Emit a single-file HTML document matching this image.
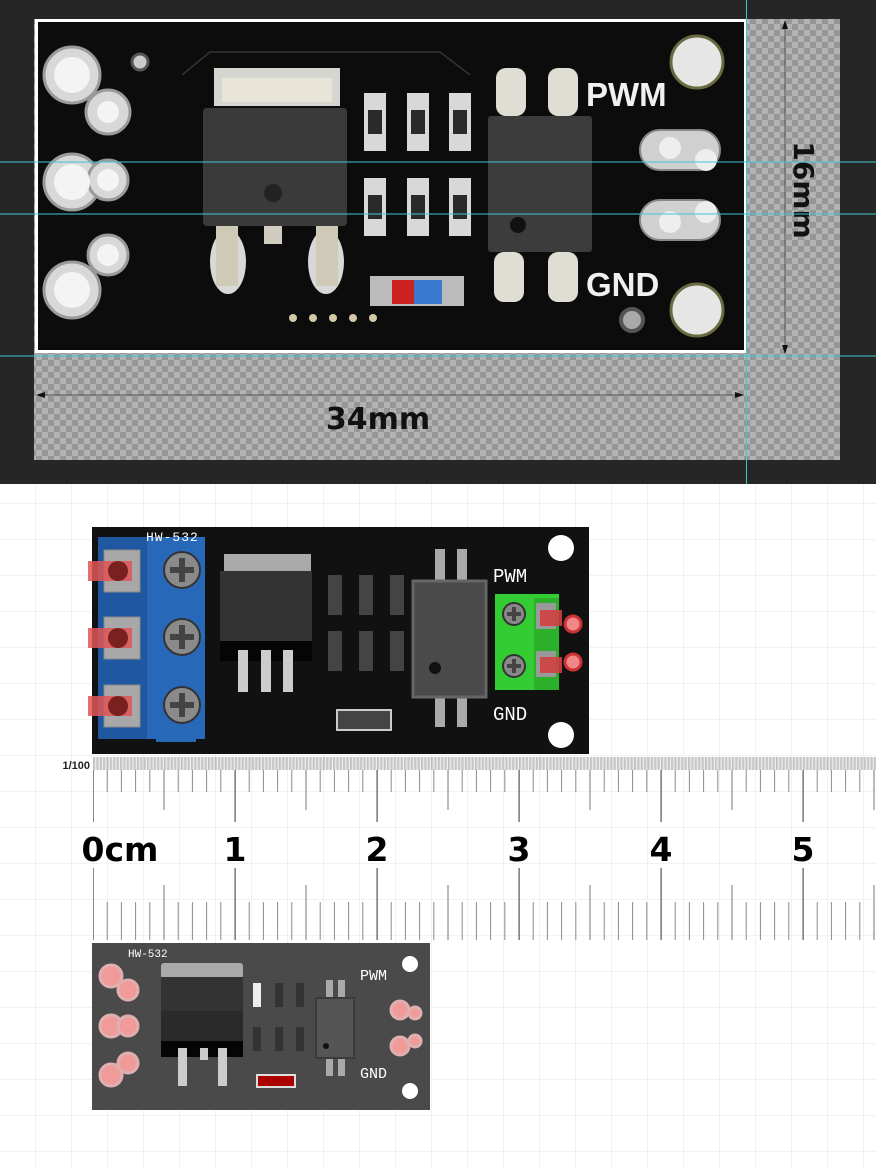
<!DOCTYPE html>
<html><head><meta charset="utf-8"><style>html,body{margin:0;padding:0;background:#fff}svg{display:block}</style></head><body>
<svg width="876" height="1169" viewBox="0 0 876 1169" xmlns="http://www.w3.org/2000/svg" font-family="Liberation Sans, DejaVu Sans, sans-serif">
<defs>
<pattern id="chk" width="12" height="12" patternUnits="userSpaceOnUse"><rect width="12" height="12" fill="#b3b3b3"/><rect width="6" height="6" fill="#969696"/><rect x="6" y="6" width="6" height="6" fill="#969696"/></pattern>
<pattern id="grid" x="0" y="0" width="36" height="36" patternUnits="userSpaceOnUse"><path d="M36 0V36H0" fill="none" stroke="#e2e6ea" stroke-width="1"/></pattern>
<pattern id="fine" x="93" y="0" width="1.42" height="20" patternUnits="userSpaceOnUse"><rect width="0.6" height="20" fill="#9a9a9a"/></pattern>
<pattern id="mm" x="92.5" y="0" width="14.2" height="200" patternUnits="userSpaceOnUse"><rect width="1" height="200" fill="#8a8a8a"/></pattern>
<pattern id="half" x="92.5" y="0" width="71" height="200" patternUnits="userSpaceOnUse"><rect width="1" height="200" fill="#777"/></pattern>
<pattern id="cm" x="92.5" y="0" width="142" height="200" patternUnits="userSpaceOnUse"><rect width="1.2" height="200" fill="#555"/></pattern>
</defs>
<!-- top photo area -->
<rect x="0" y="0" width="876" height="484" fill="#262626"/>
<rect x="34" y="19" width="806" height="441" fill="url(#chk)"/>
<rect x="35" y="19" width="711" height="334" fill="#fff"/>
<rect x="38" y="22" width="706" height="328" fill="#0c0c0c"/>
<path d="M182 75 L210 52 H440 L470 75" fill="none" stroke="#333" stroke-width="1.5"/>
<!-- left pads -->
<g fill="#d8d8d8" stroke="#9a9a9a" stroke-width="3">
<circle cx="72" cy="75" r="28"/><circle cx="108" cy="112" r="22"/>
<circle cx="72" cy="182" r="28"/><circle cx="108" cy="180" r="20"/>
<circle cx="72" cy="290" r="28"/><circle cx="108" cy="255" r="20"/>
</g>
<g fill="#f4f4f4"><circle cx="72" cy="75" r="18"/><circle cx="108" cy="112" r="11"/><circle cx="72" cy="182" r="18"/><circle cx="108" cy="180" r="11"/><circle cx="72" cy="290" r="18"/><circle cx="108" cy="255" r="11"/></g>
<circle cx="140" cy="62" r="8" fill="#ccc" stroke="#555" stroke-width="3"/>
<!-- mosfet -->
<rect x="214" y="68" width="126" height="38" fill="#d6d6d0"/>
<rect x="222" y="78" width="110" height="24" fill="#e8e4d8"/>
<rect x="203" y="108" width="144" height="118" rx="4" fill="#3a3a3a"/>
<circle cx="273" cy="193" r="9" fill="#222"/>
<rect x="264" y="226" width="18" height="18" fill="#d0ccc0"/>
<ellipse cx="228" cy="262" rx="18" ry="32" fill="#d8d8d8"/><rect x="216" y="226" width="22" height="60" fill="#cfc9b8"/>
<ellipse cx="326" cy="262" rx="18" ry="32" fill="#d8d8d8"/><rect x="316" y="226" width="22" height="60" fill="#cfc9b8"/>
<!-- resistors -->
<g fill="#d8d8d8"><rect x="364" y="93" width="22" height="58"/><rect x="407" y="93" width="22" height="58"/><rect x="449" y="93" width="22" height="58"/>
<rect x="364" y="178" width="22" height="58"/><rect x="407" y="178" width="22" height="58"/><rect x="449" y="178" width="22" height="58"/></g>
<g fill="#2a2a2a"><rect x="368" y="110" width="14" height="24"/><rect x="411" y="110" width="14" height="24"/><rect x="453" y="110" width="14" height="24"/><rect x="368" y="195" width="14" height="24"/><rect x="411" y="195" width="14" height="24"/><rect x="453" y="195" width="14" height="24"/></g>
<!-- diode -->
<rect x="370" y="276" width="94" height="30" fill="#bbb"/><rect x="392" y="280" width="22" height="24" fill="#c22"/><rect x="414" y="280" width="28" height="24" fill="#3a7ad0"/>
<g fill="#d4c8a8"><circle cx="293" cy="318" r="4"/><circle cx="313" cy="318" r="4"/><circle cx="333" cy="318" r="4"/><circle cx="353" cy="318" r="4"/><circle cx="373" cy="318" r="4"/></g>
<!-- optocoupler -->
<g fill="#e0ddd5"><rect x="496" y="68" width="30" height="48" rx="10"/><rect x="548" y="68" width="30" height="48" rx="10"/><rect x="494" y="252" width="30" height="50" rx="10"/><rect x="548" y="252" width="30" height="50" rx="10"/></g>
<rect x="488" y="116" width="104" height="136" rx="3" fill="#3c3c3c"/>
<circle cx="518" cy="225" r="8" fill="#111"/>
<text x="586" y="106" fill="#f0f0f0" font-size="33" font-weight="bold">PWM</text>
<text x="586" y="296" fill="#f0f0f0" font-size="33" font-weight="bold">GND</text>
<!-- right pads -->
<g fill="#d0d0d0" stroke="#888" stroke-width="2"><rect x="640" y="130" width="80" height="40" rx="20"/><rect x="640" y="200" width="80" height="40" rx="20"/></g>
<g fill="#eee"><circle cx="670" cy="148" r="11"/><circle cx="706" cy="160" r="11"/><circle cx="670" cy="222" r="11"/><circle cx="706" cy="212" r="11"/></g>
<circle cx="697" cy="62" r="26" fill="#e6e6e6" stroke="#6a6a40" stroke-width="3"/>
<circle cx="697" cy="310" r="26" fill="#e6e6e6" stroke="#6a6a40" stroke-width="3"/>
<circle cx="632" cy="320" r="11" fill="#aaa" stroke="#555" stroke-width="4"/>
<!-- dimension -->
<line x1="785" y1="22" x2="785" y2="350" stroke="#555" stroke-width="1"/>
<path d="M785 20l-3 9h6z M785 354l-3-9h6z" fill="#111"/>
<line x1="38" y1="395" x2="740" y2="395" stroke="#555"/>
<path d="M36 395l9-3v6z M744 395l-9-3v6z" fill="#111"/>
<text x="378" y="429" text-anchor="middle" font-size="30" font-weight="bold" fill="#111" font-family="DejaVu Sans, sans-serif">34mm</text>
<text transform="translate(794,190) rotate(90)" text-anchor="middle" font-size="28" font-weight="bold" fill="#111" font-family="DejaVu Sans, sans-serif">16mm</text>
<g stroke="#3cc8d0" stroke-width="1"><line x1="0" y1="162" x2="876" y2="162"/><line x1="0" y1="214" x2="876" y2="214"/><line x1="0" y1="356" x2="876" y2="356"/><line x1="746.5" y1="0" x2="746.5" y2="484"/></g>
<!-- grid bg -->
<rect x="0" y="484" width="876" height="685" fill="url(#grid)"/>
<!-- middle pcb -->
<rect x="92" y="527" width="497" height="227" fill="#111"/>
<rect x="98" y="537" width="50" height="202" fill="#1f58a0"/>
<rect x="147" y="537" width="58" height="202" fill="#2868b8"/>
<rect x="156" y="736" width="40" height="6" fill="#2868b8"/>
<g fill="#a8a8a8" stroke="#888"><rect x="104" y="550" width="36" height="42"/><rect x="104" y="617" width="36" height="42"/><rect x="104" y="685" width="36" height="42"/></g>
<g fill="#e05555" opacity="0.85"><rect x="88" y="561" width="44" height="20"/><rect x="88" y="628" width="44" height="20"/><rect x="88" y="696" width="44" height="20"/></g>
<g fill="#7a2020"><circle cx="118" cy="571" r="10"/><circle cx="118" cy="638" r="10"/><circle cx="118" cy="706" r="10"/></g>
<g fill="#8a8a8a" stroke="#333" stroke-width="2"><circle cx="182" cy="570" r="18"/><circle cx="182" cy="637" r="18"/><circle cx="182" cy="705" r="18"/></g>
<g stroke="#444" stroke-width="6"><path d="M170 570h24M182 558v24M170 637h24M182 625v24M170 705h24M182 693v24"/></g>
<text x="146" y="541" fill="#fff" font-size="13" font-family="Liberation Mono, monospace" letter-spacing="1">HW-532</text>
<rect x="224" y="554" width="87" height="18" fill="#aaa"/>
<rect x="220" y="571" width="92" height="71" fill="#333"/>
<rect x="220" y="641" width="92" height="20" fill="#050505"/>
<g fill="#ccc"><rect x="238" y="650" width="10" height="42"/><rect x="261" y="650" width="10" height="42"/><rect x="283" y="650" width="10" height="42"/></g>
<g fill="#444"><rect x="328" y="575" width="14" height="40"/><rect x="359" y="575" width="14" height="40"/><rect x="390" y="575" width="14" height="40"/><rect x="328" y="631" width="14" height="40"/><rect x="359" y="631" width="14" height="40"/><rect x="390" y="631" width="14" height="40"/></g>
<g fill="#aaa"><rect x="435" y="549" width="10" height="32"/><rect x="457" y="549" width="10" height="32"/><rect x="435" y="697" width="10" height="30"/><rect x="457" y="697" width="10" height="30"/></g>
<rect x="413" y="581" width="73" height="116" fill="#4a4a4a" stroke="#666" stroke-width="3"/>
<circle cx="435" cy="668" r="6" fill="#111"/>
<rect x="337" y="710" width="54" height="20" fill="#444" stroke="#ccc" stroke-width="2"/>
<rect x="495" y="594" width="64" height="96" fill="#33cc33"/>
<rect x="534" y="598" width="25" height="92" fill="#2bb02b"/>
<g fill="#888" stroke="#333" stroke-width="2"><circle cx="514" cy="614" r="11"/><circle cx="514" cy="666" r="11"/></g>
<g stroke="#444" stroke-width="4"><path d="M507 614h14M514 607v14M507 666h14M514 659v14"/></g>
<g fill="#999"><rect x="536" y="603" width="20" height="26"/><rect x="536" y="651" width="20" height="26"/></g>
<g fill="#d04040" opacity="0.9"><rect x="540" y="610" width="22" height="16"/><rect x="540" y="657" width="22" height="16"/></g>
<g fill="#f08888" stroke="#c33" stroke-width="3"><circle cx="573" cy="624" r="8"/><circle cx="573" cy="662" r="8"/></g>
<circle cx="561" cy="548" r="13" fill="#fff"/><circle cx="561" cy="735" r="13" fill="#fff"/>
<text x="493" y="582" fill="#fff" font-size="19" font-family="Liberation Mono, monospace">PWM</text>
<text x="493" y="720" fill="#fff" font-size="19" font-family="Liberation Mono, monospace">GND</text>
<!-- ruler -->
<rect x="93" y="757" width="783" height="13" fill="url(#fine)"/>
<text x="90" y="769" text-anchor="end" font-size="11" font-weight="bold" fill="#222">1/100</text>
<rect x="93" y="770" width="783" height="22" fill="url(#mm)"/>
<rect x="93" y="770" width="783" height="40" fill="url(#half)"/>
<rect x="93" y="770" width="783" height="52" fill="url(#cm)"/>
<rect x="93" y="902" width="783" height="38" fill="url(#mm)"/>
<rect x="93" y="885" width="783" height="55" fill="url(#half)"/>
<rect x="93" y="868" width="783" height="72" fill="url(#cm)"/>
<g font-size="33" font-weight="bold" fill="#000" font-family="DejaVu Sans, sans-serif" text-anchor="middle">
<text x="120" y="861">0cm</text><text x="235" y="861">1</text><text x="377" y="861">2</text><text x="519" y="861">3</text><text x="661" y="861">4</text><text x="803" y="861">5</text></g>
<!-- bottom pcb -->
<rect x="92" y="943" width="338" height="167" fill="#4a4a4a"/>
<text x="128" y="957" fill="#fff" font-size="11" font-family="Liberation Mono, monospace">HW-532</text>
<g fill="#f19a9a" stroke="#e0b0b0" stroke-width="3"><circle cx="111" cy="976" r="11"/><circle cx="128" cy="990" r="10"/><circle cx="111" cy="1026" r="11"/><circle cx="128" cy="1026" r="10"/><circle cx="111" cy="1075" r="11"/><circle cx="128" cy="1063" r="10"/>
<circle cx="400" cy="1010" r="9"/><circle cx="415" cy="1013" r="6"/><circle cx="400" cy="1046" r="9"/><circle cx="415" cy="1041" r="6"/></g>
<rect x="161" y="963" width="82" height="16" rx="3" fill="#aaa"/>
<rect x="161" y="977" width="82" height="34" fill="#333"/>
<rect x="161" y="1011" width="82" height="30" fill="#2a2a2a"/>
<rect x="161" y="1041" width="82" height="16" fill="#050505"/>
<g fill="#ccc"><rect x="178" y="1048" width="9" height="38"/><rect x="200" y="1048" width="8" height="12"/><rect x="218" y="1048" width="9" height="38"/></g>
<g fill="#333"><rect x="253" y="983" width="8" height="24"/><rect x="275" y="983" width="8" height="24"/><rect x="296" y="983" width="8" height="24"/><rect x="253" y="1027" width="8" height="24"/><rect x="275" y="1027" width="8" height="24"/><rect x="296" y="1027" width="8" height="24"/></g>
<rect x="253" y="983" width="8" height="24" fill="#eee"/>
<g fill="#aaa"><rect x="326" y="980" width="7" height="18"/><rect x="338" y="980" width="7" height="18"/><rect x="326" y="1058" width="7" height="18"/><rect x="338" y="1058" width="7" height="18"/></g>
<rect x="316" y="998" width="38" height="60" fill="#555" stroke="#3a3a3a" stroke-width="2"/>
<circle cx="326" cy="1046" r="3" fill="#111"/>
<rect x="257" y="1075" width="38" height="12" fill="#a00" stroke="#ddd" stroke-width="2"/>
<text x="360" y="980" fill="#fff" font-size="15" font-family="Liberation Mono, monospace">PWM</text>
<text x="360" y="1078" fill="#fff" font-size="15" font-family="Liberation Mono, monospace">GND</text>
<circle cx="410" cy="964" r="8" fill="#fff"/><circle cx="410" cy="1091" r="8" fill="#fff"/>
</svg>
</body></html>
